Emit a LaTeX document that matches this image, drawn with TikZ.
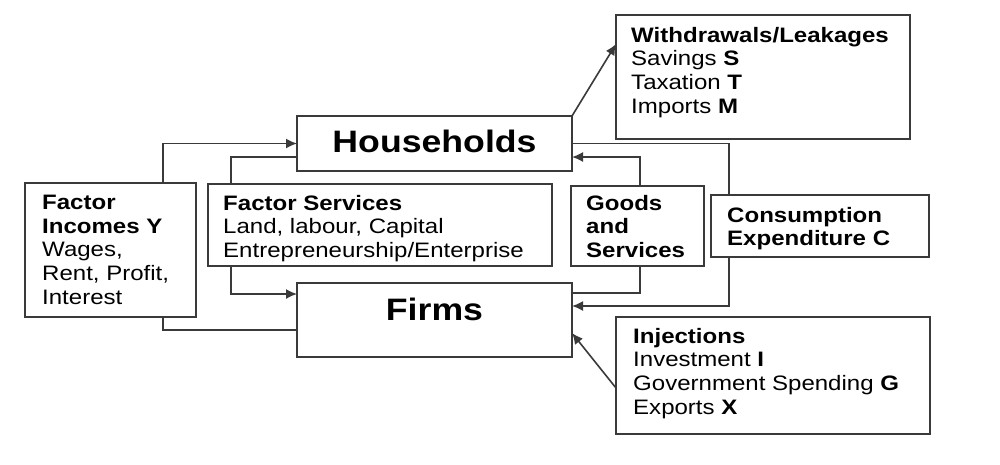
\documentclass[tikz,border=0pt]{standalone}
\usepackage{fontspec}
\setmainfont{Liberation Sans}[FakeStretch=1.15]
\usetikzlibrary{arrows.meta}
\definecolor{lc}{HTML}{3A3A3A}
\begin{document}
\begin{tikzpicture}[x=1pt,y=-1pt,
  box/.style={draw=lc, line width=1.6pt, inner sep=0pt, outer sep=0pt},
  ln/.style={draw=lc, line width=1.6pt},
  arr/.style={ln, -{Latex[length=11pt,width=10pt]}},
  txt/.style={inner sep=0pt, anchor=north west, align=left, font=\fontsize{20.9}{23.7}\selectfont, text=black},
  big/.style={inner sep=0pt, anchor=base, font=\bfseries\fontsize{31}{36}\selectfont, text=black}]
\useasboundingbox[fill=white] (0,0) rectangle (1000,464);
% boxes
\node[box, minimum width=275pt, minimum height=55pt] (hh) at (434.5,143.5) {};
\node[box, minimum width=275pt, minimum height=74pt] (fm) at (434.5,320) {};
\node[box, minimum width=344pt, minimum height=82pt] (fs) at (380,225) {};
\node[box, minimum width=133pt, minimum height=80pt] (gs) at (637.5,226) {};
\node[box, minimum width=171pt, minimum height=134pt] (fi) at (110.5,250) {};
\node[box, minimum width=218pt, minimum height=62pt] (ce) at (820,226) {};
\node[box, minimum width=294pt, minimum height=124pt] (wd) at (763,77) {};
\node[box, minimum width=314pt, minimum height=117pt] (inj) at (773,375.5) {};
% texts
\node[big] (hht) at (434.5,152) {Households};
\node[big] (fmt) at (434.5,320) {Firms};
\node[txt] (fitx) at (42,194.8) {\textbf{Factor}\\\textbf{Incomes Y}\\Wages,\\Rent, Profit,\\Interest};
\node[txt] (fstx) at (223,194.8) {\textbf{Factor Services}\\Land, labour, Capital\\Entrepreneurship/Enterprise};
\node[txt] (gstx) at (586,194.8) {\textbf{Goods}\\\textbf{and}\\\textbf{Services}};
\node[txt] (cetx) at (727,206.8) {\textbf{Consumption}\\\textbf{Expenditure C}};
\node[txt] (wdtx) at (631,26.8) {\textbf{Withdrawals/Leakages}\\Savings \textbf{S}\\Taxation \textbf{T}\\Imports \textbf{M}};
\node[txt] (injtx) at (633,327.8) {\textbf{Injections}\\Investment \textbf{I}\\Government Spending \textbf{G}\\Exports \textbf{X}};
% connectors
\draw[arr] ([xshift=52.5pt]fi.north) |- (hh.west);
\draw[ln] ([yshift=-10pt]fm.west) -| ([xshift=52.5pt]fi.south);
\draw[ln] ([yshift=-13.5pt]hh.west) -| ([xshift=-149pt]fs.north);
\draw[arr] ([xshift=-149pt]fs.south) |- ([yshift=26pt]fm.west);
\draw[ln] ([yshift=27pt]fm.east) -| ([xshift=2.5pt]gs.south);
\draw[arr] ([xshift=2.5pt]gs.north) |- ([yshift=-13.5pt]hh.east);
\draw[ln] (hh.east) -| ([xshift=-91pt]ce.north);
\draw[arr] ([xshift=-91pt]ce.south) |- ([yshift=14pt]fm.east);
\draw[arr] (hh.north east) -- ([yshift=33pt]wd.west);
\draw[arr] ([yshift=-12.5pt]inj.west) -- ([yshift=-13pt]fm.east);
\end{tikzpicture}
\end{document}
